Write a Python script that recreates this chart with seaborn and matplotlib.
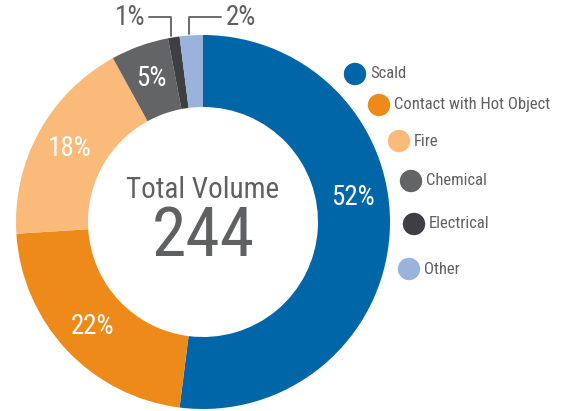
import numpy as np
import matplotlib
matplotlib.use("Agg")
import matplotlib.pyplot as plt
import seaborn as sns
from matplotlib import font_manager

categories = ["Scald", "Contact with Hot Object", "Fire", "Chemical", "Electrical", "Other"]
percents = [52, 22, 18, 5, 1, 2]
colors = ["#0066A8", "#EE8A1A", "#F9BA7A", "#636466", "#3E3F42", "#9BB3DC"]
total_volume = 244

sns.set_theme(style="white")
avail = {f.name for f in font_manager.fontManager.ttflist}
fam = [f for f in ["Liberation Sans Narrow", "Roboto Condensed", "Liberation Sans"] if f in avail] + ["DejaVu Sans"]
plt.rcParams["font.family"] = fam

GRAY = "#5F6062"
W, H = 565, 411
fig = plt.figure(figsize=(W / 100, H / 100), dpi=100)
ax = fig.add_axes([0, 0, 1, 1])

cx, cy, R, r_in = 203, H - 222, 187, 115
wedges, _ = ax.pie(percents, colors=colors, startangle=90, counterclock=False,
                   radius=R, center=(cx, cy), frame=True,
                   wedgeprops=dict(width=R - r_in, linewidth=0))
ax.set_xlim(0, W)
ax.set_ylim(0, H)
ax.set_aspect("equal")
ax.axis("off")

# percentage labels inside the ring
label_r = 152
for i, (w, p) in enumerate(zip(wedges, percents)):
    if p < 3:
        continue
    ang = (w.theta1 + w.theta2) / 2
    if i == 0:
        ang += 13
    x = cx + label_r * np.cos(np.radians(ang))
    y = cy + label_r * np.sin(np.radians(ang))
    ax.text(x, y, f"{p}%", color="white", fontsize=19.5, ha="center", va="center")

# small slices with leader lines
ax.plot([149, 171, 171], [H - 17, H - 17, H - 36], color=GRAY, lw=1.3)
ax.text(145, H - 18, f"{percents[4]}%", color=GRAY, fontsize=19.5, ha="right", va="center")
ax.plot([221, 189, 189], [H - 17, H - 17, H - 34], color=GRAY, lw=1.3)
ax.text(226, H - 18, f"{percents[5]}%", color=GRAY, fontsize=19.5, ha="left", va="center")

# center text
ax.text(cx, H - 190, "Total Volume", color=GRAY, fontsize=21, ha="center", va="center")
ax.text(cx, H - 237, f"{total_volume}", color=GRAY, fontsize=50, ha="center", va="center")

# legend
leg_pos = [(355, 74), (379, 105), (399, 141), (411, 181), (414, 224), (409, 269)]
for (lx, ly), c, name in zip(leg_pos, colors, categories):
    ax.scatter([lx], [H - ly], s=260, color=c, edgecolor="none", zorder=3)
    ax.text(lx + 15, H - ly, name, color=GRAY, fontsize=12, ha="left", va="center")

fig.savefig("out.png", dpi=100)
